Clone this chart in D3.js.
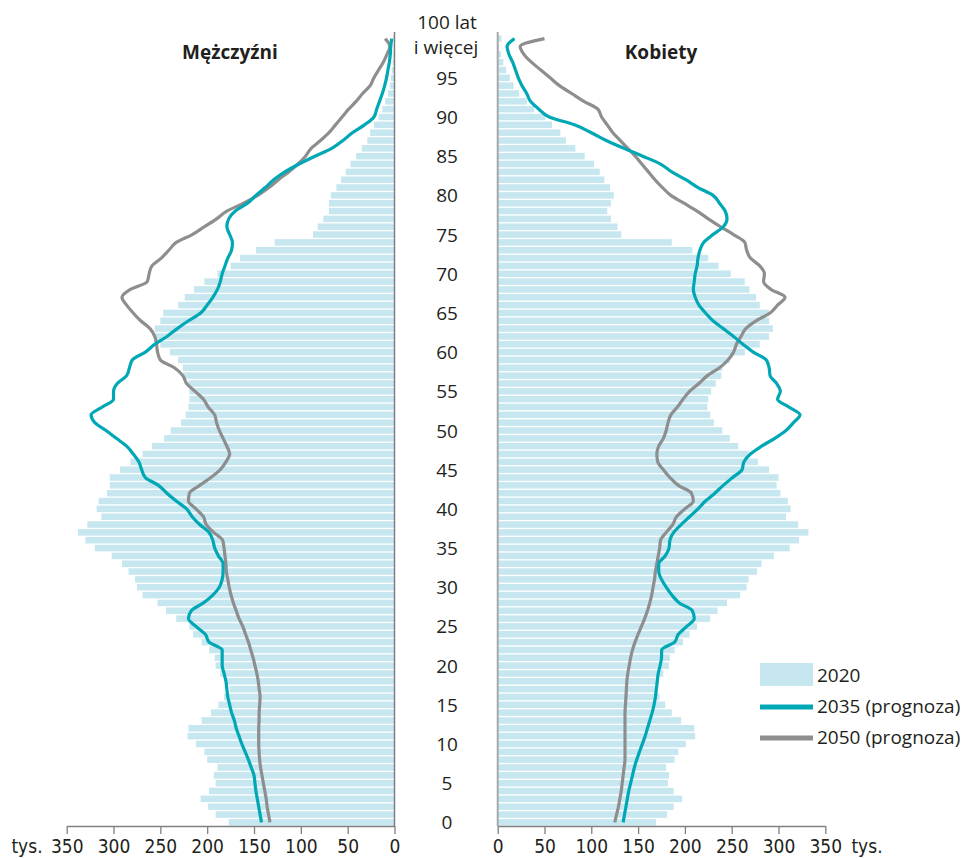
<!DOCTYPE html>
<html>
<head>
<meta charset="utf-8">
<script src="https://cdn.jsdelivr.net/npm/d3@7"></script>
<style>
body { margin: 0; background: #fff; }
svg text { fill: #231f20; }
.age { font-family: "Open Sans", "Noto Sans", sans-serif; font-size: 19px; }
.title { font-family: "Open Sans", "Noto Sans", sans-serif; font-size: 19px; font-weight: bold; }
.legend { font-family: "Open Sans", "Noto Sans", sans-serif; font-size: 19px; }
.tick text, .unit { font-family: "Liberation Sans Narrow", "DejaVu Sans Condensed", sans-serif; font-size: 19px; }
.axis path, .axis line { stroke: #808080; stroke-width: 1.3; }
</style>
</head>
<body>
<script>
// wiek 0..100 (100 = "100 lat i więcej")
var ages = d3.range(0, 101);
var ageLabels = [0, 5, 10, 15, 20, 25, 30, 35, 40, 45, 50, 55, 60, 65, 70, 75, 80, 85, 90, 95];
var xTicks = [0, 50, 100, 150, 200, 250, 300, 350];

var series = ["2020", "2035 (prognoza)", "2050 (prognoza)"];

// tys. osób, mężczyźni
var men2020 = [177, 191, 199, 207, 198, 191, 193, 189, 200, 203,
    212, 221, 220, 206, 196, 188, 182, 176, 179, 186,
    191, 192, 198, 206, 215, 219, 233, 244, 253, 269,
    275, 277, 284, 291, 302, 320, 330, 338, 328, 313,
    318, 316, 307, 304, 304, 293, 282, 269, 259, 246,
    239, 228, 223, 220, 219, 219, 220, 226, 226, 231,
    240, 250, 256, 256, 250, 247, 231, 224, 214, 203,
    189, 175, 165, 148, 128, 87, 82, 76, 70, 70,
    68, 62, 57, 52, 47, 41, 35, 29, 26, 22,
    17, 13, 10, 7, 5, 4, 3, 2, 1.5, 1, 1.5];
var men2035 = [142, 143.5, 145, 146.5, 148, 149, 150, 153, 156, 159.5,
    163, 166, 169, 171, 174, 176, 178, 179, 180, 182,
    184, 184, 184, 198, 202, 212, 220, 217, 204, 194,
    187, 184, 183, 183, 188, 192, 194, 198, 208, 216,
    222, 233, 243, 252, 266, 270, 273, 279, 286, 297,
    308, 320, 324, 312, 300, 300, 296, 286, 283, 280,
    266, 256, 243, 232, 220, 207, 200, 194, 189, 186,
    184, 181, 178, 174, 173, 176, 179, 177, 170, 157,
    148, 138, 129, 117, 102, 85, 67, 55, 45, 32,
    22, 19, 16, 13, 10.5, 8.5, 7, 5.5, 4.5, 4, 3];
var men2050 = [133, 134.5, 136, 137, 138.5, 140, 141.5, 143, 144, 144.6,
    145, 145, 145, 144.6, 144.5, 144, 143.5, 144.5, 145.5, 147,
    149, 151, 153.5, 156, 159, 162, 166, 169, 172, 174.5,
    176.5, 178, 179.5, 180, 181, 182, 183.5, 193, 201, 204,
    212, 220, 219, 208, 196, 186, 180, 176, 179, 183,
    187, 190, 192, 199, 204, 213, 222, 226, 235, 250,
    253, 254, 256, 261, 271, 279, 286, 291, 282, 264,
    262, 259, 249, 241, 233, 216, 203, 190, 179, 161,
    146, 134, 124, 113, 103, 95, 89, 79, 70, 63,
    56, 49, 41, 34, 26, 22, 17, 12, 8, 5, 10];

// tys. osób, kobiety
var women2020 = [169, 181, 188, 197, 188, 182, 183, 180, 189, 193,
    201, 211, 210, 196, 186, 179, 173, 168, 170, 177,
    183, 184, 189, 198, 205, 213, 227, 235, 245, 259,
    266, 268, 277, 282, 295, 312, 322, 332, 321, 308,
    313, 310, 302, 298, 300, 290, 278, 268, 257, 248,
    240, 231, 227, 224, 225, 228, 233, 239, 240, 248,
    264, 280, 290, 294, 290, 290, 280, 276, 269, 264,
    249, 236, 225, 208, 186, 132, 128, 121, 117, 121,
    124, 120, 114, 109, 103, 93, 83, 73, 67, 58,
    51, 39, 31, 23, 17, 13, 9, 6, 3.6, 1.4, 4];
var women2035 = [134, 135.5, 137, 138.5, 140, 142, 144, 146, 148.5, 151.5,
    154.5, 157.5, 160, 162.5, 165, 167, 168.5, 169.5, 170.5, 171.5,
    173.5, 175, 175.2, 189, 193, 202, 210, 208, 194, 186,
    180, 175, 172, 172, 179, 183, 184, 188, 196, 205,
    214, 222, 232, 241, 251, 261, 263, 270, 282, 296,
    308, 316, 323, 311, 299, 302, 298, 291, 290, 287,
    273, 262, 252, 241, 230, 222, 215, 211, 209, 210,
    211, 213, 214, 216, 220, 230, 241, 245, 243, 237,
    230, 214, 201, 186, 174, 155, 135, 116, 100, 82,
    55, 44, 35, 31, 26, 22, 19, 16, 12, 10, 18];
var women2050 = [125, 127, 129, 130.5, 132, 133, 134, 135, 136, 136,
    136, 136, 136, 136, 136, 136.5, 137, 137.5, 138, 139,
    140.5, 142, 144, 146.7, 150, 153.5, 157, 160, 162.5, 164.5,
    166, 167.5, 168.5, 170, 171.5, 173, 174, 180, 187, 191,
    200, 209, 207, 193, 184, 177, 171, 170, 172, 177,
    180, 182, 185, 192, 198, 205, 215, 224, 237, 246,
    252, 255, 260, 265, 276, 291, 299, 307, 292, 284,
    285, 280, 270, 266, 264, 252, 238, 225, 213, 199,
    185, 176, 168, 161, 154, 147, 139, 131, 123, 117,
    111, 107, 92, 79, 66, 56, 46, 36, 28, 24, 50];

var colBar = "#c6e7ef";
var col2035 = "#00a7b5";
var col2050 = "#8e8e8f";

var width = 963, height = 859;
var axisY = 826, topY = 35;
var menZero = 394.5, womenZero = 497.7;

docMain();

function docMain() {
    var svg = d3.select("body").append("svg")
        .attr("width", width)
        .attr("height", height);

    var y = d3.scaleBand()
        .domain(ages)
        .range([axisY, topY])
        .paddingInner(0.17)
        .paddingOuter(0.05);

    var xM = d3.scaleLinear().domain([0, 350]).range([menZero, 66.7]);
    var xF = d3.scaleLinear().domain([0, 350]).range([womenZero, 825.3]);

    function yc(a) { return y(a) + y.bandwidth() / 2; }

    // 2020 bars
    svg.append("g").selectAll("rect")
        .data(ages)
        .enter().append("rect")
        .attr("x", function (a) { return xM(men2020[a]); })
        .attr("y", function (a) { return y(a); })
        .attr("width", function (a) { return xM(0) - xM(men2020[a]); })
        .attr("height", y.bandwidth())
        .attr("fill", colBar);

    svg.append("g").selectAll("rect")
        .data(ages)
        .enter().append("rect")
        .attr("x", xF(0))
        .attr("y", function (a) { return y(a); })
        .attr("width", function (a) { return xF(women2020[a]) - xF(0); })
        .attr("height", y.bandwidth())
        .attr("fill", colBar);

    // vertical zero lines
    svg.append("line")
        .attr("x1", menZero).attr("x2", menZero)
        .attr("y1", 32).attr("y2", axisY)
        .attr("stroke", "#7a7a7a").attr("stroke-width", 1.4);
    svg.append("line")
        .attr("x1", womenZero).attr("x2", womenZero)
        .attr("y1", 32).attr("y2", axisY)
        .attr("stroke", "#a8a8a8").attr("stroke-width", 2);

    // bottom axes
    svg.append("g")
        .attr("class", "axis")
        .attr("transform", "translate(0," + axisY + ")")
        .call(d3.axisBottom(xM).tickValues(xTicks).tickSize(8).tickPadding(6).tickSizeOuter(0));
    svg.append("g")
        .attr("class", "axis")
        .attr("transform", "translate(0," + axisY + ")")
        .call(d3.axisBottom(xF).tickValues(xTicks).tickSize(8).tickPadding(6).tickSizeOuter(0));
    svg.selectAll(".axis .tick text").attr("fill", "#231f20");
    svg.selectAll(".axis").attr("font-family", null).attr("font-size", null);

    svg.append("text").attr("class", "unit")
        .attr("x", 27).attr("y", axisY + 14).attr("dy", "0.71em")
        .attr("text-anchor", "middle").text("tys.");
    svg.append("text").attr("class", "unit")
        .attr("x", 867).attr("y", axisY + 14).attr("dy", "0.71em")
        .attr("text-anchor", "middle").text("tys.");

    // projection lines
    function drawLine(vals, x, col) {
        var line = d3.line()
            .x(function (a) { return x(vals[a]); })
            .y(function (a) { return yc(a); })
            .curve(d3.curveMonotoneY);
        svg.append("path")
            .attr("d", line(ages))
            .attr("fill", "none")
            .attr("stroke", col)
            .attr("stroke-width", 3.2)
            .attr("stroke-linejoin", "round");
    }
    drawLine(men2050, xM, col2050);
    drawLine(women2050, xF, col2050);
    drawLine(men2035, xM, col2035);
    drawLine(women2035, xF, col2035);

    // age labels
    svg.append("g").selectAll("text")
        .data(ageLabels)
        .enter().append("text")
        .attr("class", "age")
        .attr("x", 447)
        .attr("y", function (a) { return yc(a) + 7; })
        .attr("text-anchor", "middle")
        .text(function (a) { return a; });
    svg.append("text").attr("class", "age")
        .attr("x", 447).attr("y", 29).attr("text-anchor", "middle").text("100 lat");
    svg.append("text").attr("class", "age")
        .attr("x", 446).attr("y", 54).attr("text-anchor", "middle").text("i więcej");

    // titles
    svg.append("text").attr("class", "title")
        .attr("x", 230).attr("y", 59).attr("text-anchor", "middle").text("Mężczyźni");
    svg.append("text").attr("class", "title")
        .attr("x", 661).attr("y", 59).attr("text-anchor", "middle").text("Kobiety");

    // legend
    var lg = svg.append("g").attr("transform", "translate(760,663)");
    lg.append("rect").attr("x", 0).attr("y", 0).attr("width", 53).attr("height", 23).attr("fill", colBar);
    lg.append("line").attr("x1", 0).attr("x2", 53).attr("y1", 44).attr("y2", 44)
        .attr("stroke", col2035).attr("stroke-width", 5);
    lg.append("line").attr("x1", 0).attr("x2", 53).attr("y1", 75).attr("y2", 75)
        .attr("stroke", col2050).attr("stroke-width", 5);
    lg.selectAll("text.legend")
        .data(series)
        .enter().append("text")
        .attr("class", "legend")
        .attr("x", 57)
        .attr("y", function (d, i) { return 12 + i * 31 + 7; })
        .text(function (d) { return d; });
}
</script>
</body>
</html>
